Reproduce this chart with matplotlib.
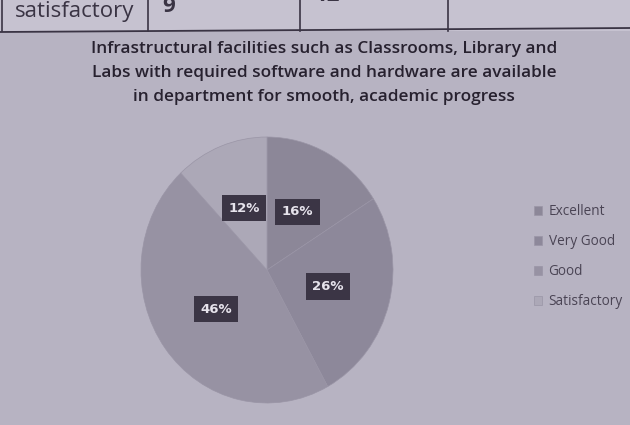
import matplotlib.pyplot as plt
from matplotlib.patches import Rectangle
from matplotlib.lines import Line2D

categories = ["Excellent", "Very Good", "Good", "Satisfactory"]
percent = [16, 26, 46, 12]
colors = ["#8c8798", "#8d889a", "#9792a3", "#aca8b7"]
title = ("Infrastructural facilities such as Classrooms, Library and\n"
         "Labs with required software and hardware are available\n"
         "in department for smooth, academic progress")
table_row = ["satisfactory", "9", "12"]

W, H = 630, 425
fig = plt.figure(figsize=(W / 100, H / 100), dpi=100)
fig.patch.set_facecolor("#b7b3c2")


def px(x, y):
    return x / W, 1 - y / H


# page strip with table row above the chart
fig.add_artist(Rectangle((0, 1 - 31 / H), 1, 31 / H, transform=fig.transFigure,
                         facecolor="#c6c2d0", edgecolor="none", zorder=0))
fig.add_artist(Line2D([0, 1], [1 - 32 / H, 1 - 28 / H], transform=fig.transFigure,
                      color="#3a3444", lw=1.3))
for xv in [2, 148, 300, 448]:
    fig.add_artist(Line2D([xv / W, xv / W], [1, 1 - 31 / H], transform=fig.transFigure,
                          color="#3a3444", lw=1.2))
fig.text(*px(15, 12), table_row[0], fontsize=16, color="#3a3444",
         family="Open Sans", va="center", ha="left")
fig.text(*px(162, 6), table_row[1], fontsize=16, color="#3a3444",
         family="Open Sans", va="center", ha="left", weight="bold")
fig.text(*px(315, -4), table_row[2], fontsize=16, color="#3a3444",
         family="Open Sans", va="center", ha="left", weight="bold")

fig.text(*px(324, 73), title, fontsize=12.4, color="#27212f", family="Open Sans",
         weight="semibold", ha="center", va="center", linespacing=1.68)

# pie
cx, cy, rx, ry = 267, 270, 126, 133
ax = fig.add_axes([(cx - rx) / W, (H - cy - ry) / H, 2 * rx / W, 2 * ry / H])
wedges, texts, autotexts = ax.pie(
    percent, colors=colors, startangle=90, counterclock=False,
    autopct="%d%%", pctdistance=0.5,
    wedgeprops=dict(linewidth=0.5, edgecolor="#9a95a6"),
    textprops=dict(color="#e6e3ec", fontsize=9.5, weight="bold", family="DejaVu Sans"))
for t in autotexts:
    t.set_bbox(dict(boxstyle="square,pad=0.5", facecolor="#3b3545", edgecolor="none"))
ax.set_aspect("auto")
ax.set_xlim(-1, 1)
ax.set_ylim(-1, 1)

leg = fig.legend(wedges, categories, loc="upper left", bbox_to_anchor=px(522, 192),
                 frameon=False, handlelength=0.6, handleheight=0.6, handletextpad=0.45,
                 labelspacing=1.1, prop=dict(family="Open Sans", size=9.8))
for t in leg.get_texts():
    t.set_color("#4a4454")

fig.savefig("out.png", dpi=100, facecolor=fig.get_facecolor())
